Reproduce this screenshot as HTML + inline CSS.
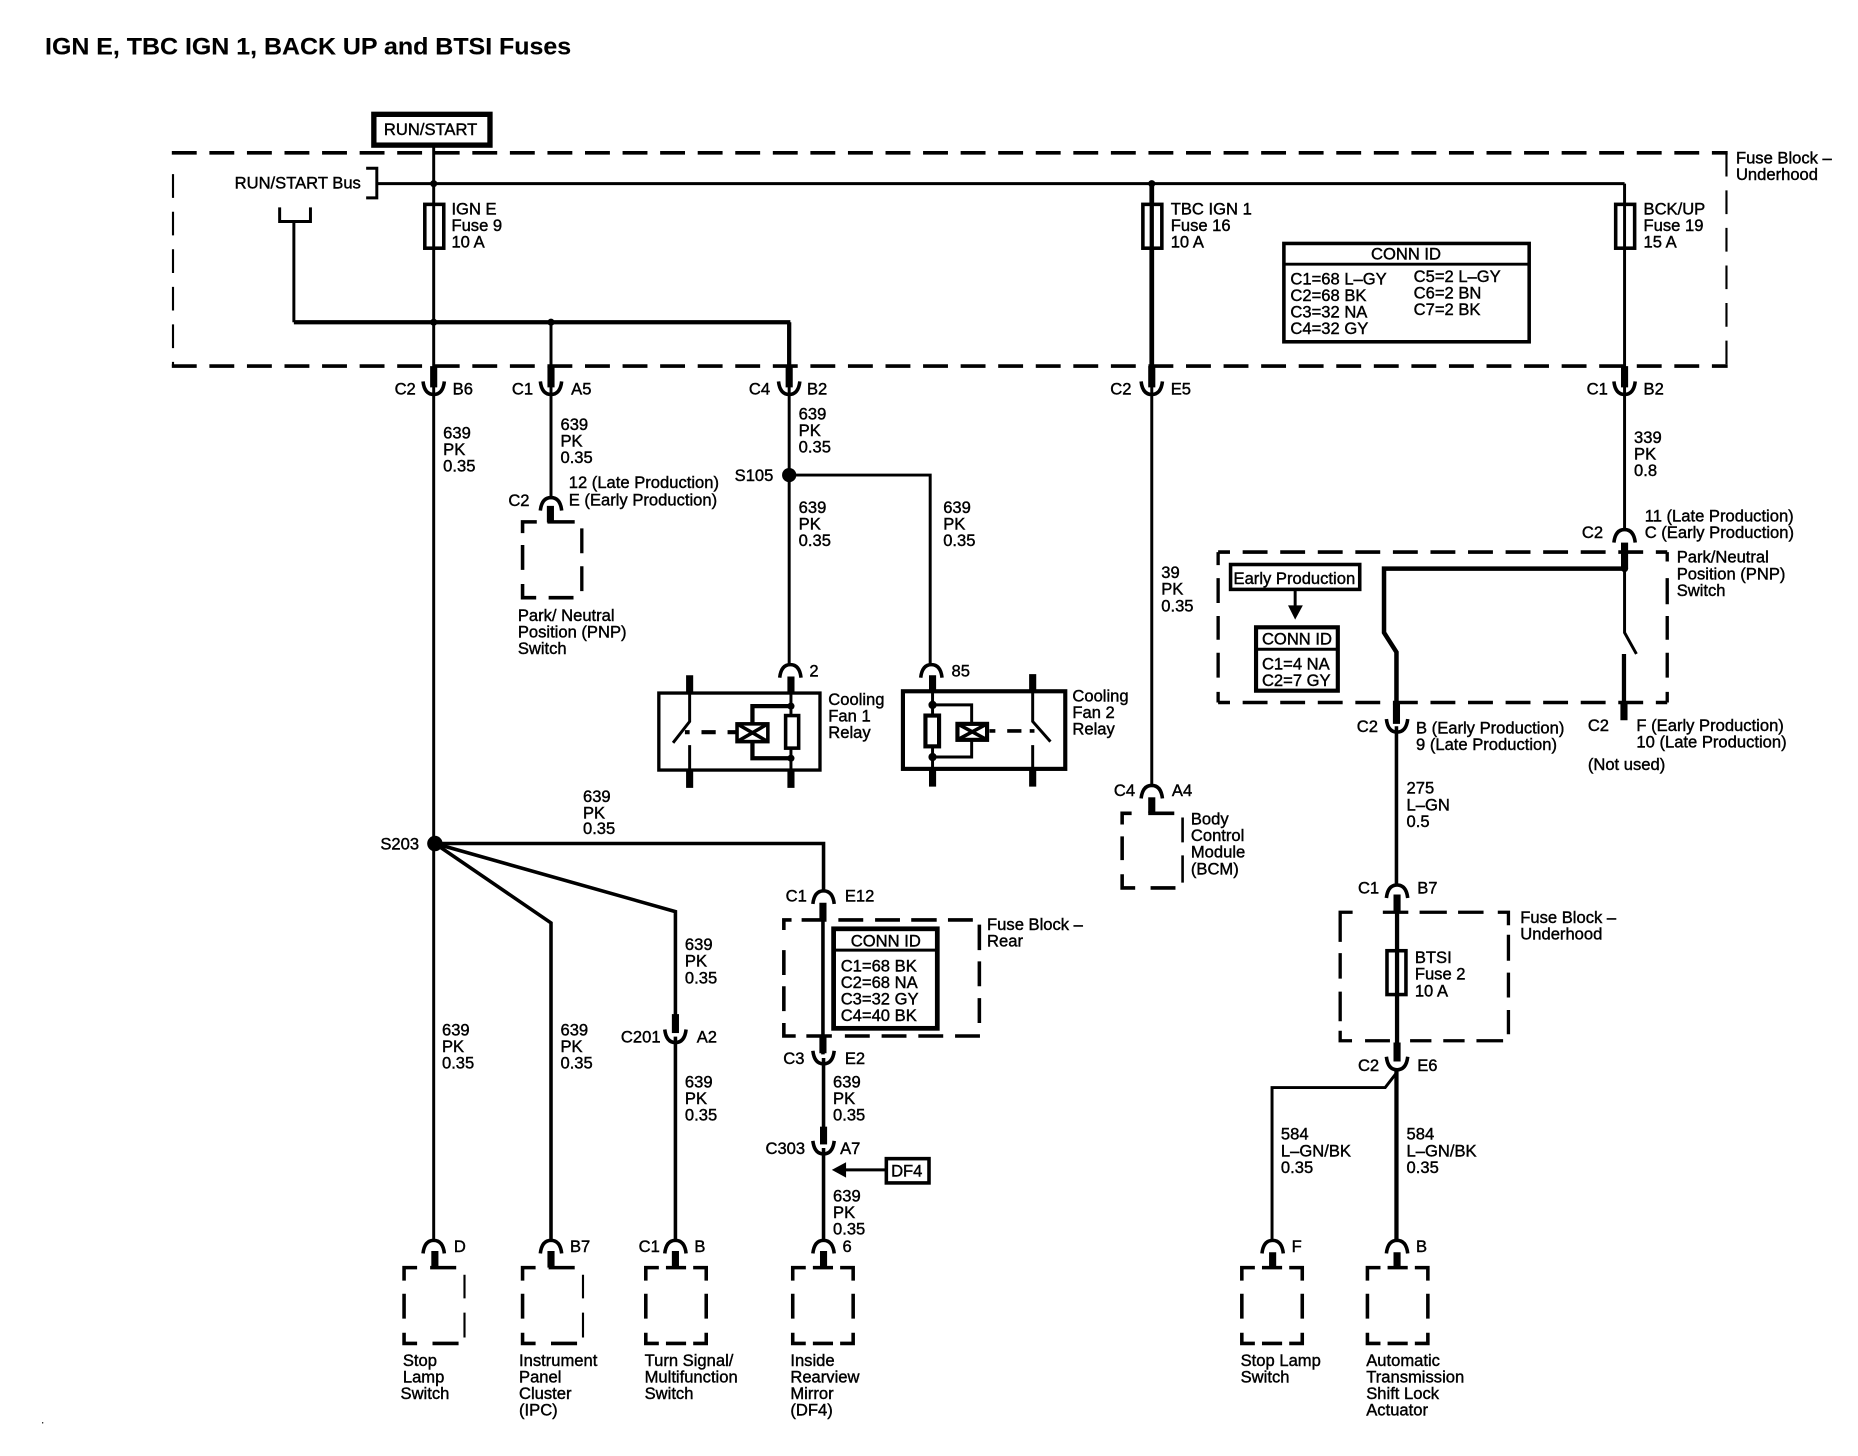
<!DOCTYPE html>
<html><head><meta charset="utf-8"><title>IGN E, TBC IGN 1, BACK UP and BTSI Fuses</title>
<style>
html,body{margin:0;padding:0;background:#fff}
svg{display:block;width:1858px;height:1456px}
text{font-family:"Liberation Sans",sans-serif;font-size:14px;fill:#000;stroke:#000;stroke-width:.35px}
.t{font-weight:bold;font-size:20px;stroke-width:.1px}
.w{stroke:#000;stroke-width:2.5;fill:none}
.h{stroke:#000;stroke-width:3;fill:none}
.x{stroke:#000;stroke-width:3.6;fill:none}
.s{stroke:#000;stroke-width:6;fill:none}
.d{stroke:#000;stroke-width:3;fill:none;stroke-dasharray:21 10.7}
.f{stroke:#000;stroke-width:1.8;fill:none;stroke-dasharray:20 11.7}
.b{stroke:#000;stroke-width:3;fill:#fff}
</style></head><body>
<svg viewBox="0 0 1568 1229" preserveAspectRatio="none" xmlns="http://www.w3.org/2000/svg">
<defs>
<path id="cup" d="M-9,-6C-8,3 -4,5 0,5C4,5 8,3 9,-6" fill="none" stroke="#000" stroke-width="3"/>
<path id="cap" d="M-9,6C-8,-3 -4,-5 0,-5C4,-5 8,-3 9,6" fill="none" stroke="#000" stroke-width="3"/>
<g id="ba" fill="none" stroke="#000">
<path stroke-width="3" d="M0,11V0H11M22,0H44M0,22V43M0,55V64H11M24,64H46"/>
<path stroke-width="1.8" d="M51,6V26M51,38V59"/>
</g>
<g id="bb" fill="none" stroke="#000" stroke-width="3">
<path d="M0,11V0H11M17,0H34M40,0H51V11M0,22V43M51,22V43M0,55V64H11M17,64H34M40,64H51V55"/>
</g>
</defs>
<rect width="1568" height="1229" fill="#fff"/>

<text class="t" x="38" y="46" textLength="444" lengthAdjust="spacingAndGlyphs">IGN E, TBC IGN 1, BACK UP and BTSI Fuses</text>

<!-- main fuse block -->
<line class="d" x1="145" y1="129" x2="1458" y2="129"/>
<line class="d" x1="145" y1="309" x2="1458" y2="309"/>
<line class="f" x1="146" y1="147" x2="146" y2="309"/>
<line class="f" x1="1457" y1="129" x2="1457" y2="309"/>

<rect x="315.500" y="96.500" width="98" height="26" fill="#fff" stroke="#000" stroke-width="4.500"/>
<text x="324" y="114">RUN/START</text>

<!-- bus -->
<path class="w" d="M309,142H318V167H309"/>
<text x="198" y="159">RUN/START Bus</text>
<line class="w" x1="318" y1="155" x2="1371" y2="155"/>
<path class="w" d="M236,175V187H262V175"/>
<path class="w" d="M248,187V272"/>
<line class="x" x1="248" y1="272" x2="667" y2="272"/>
<circle cx="366" cy="155" r="3"/><circle cx="972" cy="155" r="3"/>
<circle cx="366" cy="272" r="3"/><circle cx="465" cy="272" r="3"/>

<!-- verticals -->
<line class="w" x1="366" y1="124" x2="366" y2="1048"/>
<line class="w" x1="465" y1="272" x2="465" y2="420"/>
<line class="x" x1="666" y1="272" x2="666" y2="320"/>
<line class="w" x1="666" y1="320" x2="666" y2="562"/>
<line class="x" x1="972" y1="155" x2="972" y2="320" style="stroke-width:4"/>
<line class="w" x1="972" y1="320" x2="972" y2="664"/>
<line class="w" x1="1371" y1="155" x2="1371" y2="448"/>

<!-- fuses -->
<rect class="b" x="358.500" y="172.500" width="16" height="37"/><line class="w" x1="366" y1="172" x2="366" y2="210"/>
<rect class="b" x="964.500" y="172.500" width="16" height="37"/><line class="x" x1="972" y1="172" x2="972" y2="210"/>
<rect class="b" x="1363.500" y="172.500" width="16" height="37"/><line class="w" x1="1371" y1="172" x2="1371" y2="210"/>
<text x="381" y="181">IGN E<tspan x="381" dy="14">Fuse 9</tspan><tspan x="381" dy="14">10 A</tspan></text>
<text x="988" y="181">TBC IGN 1<tspan x="988" dy="14">Fuse 16</tspan><tspan x="988" dy="14">10 A</tspan></text>
<text x="1387" y="181">BCK/UP<tspan x="1387" dy="14">Fuse 19</tspan><tspan x="1387" dy="14">15 A</tspan></text>
<text x="1465" y="138">Fuse Block –<tspan x="1465" dy="14">Underhood</tspan></text>

<!-- conn id main -->
<rect class="b" x="1083.500" y="205.500" width="207" height="83"/>
<line class="w" x1="1083" y1="223" x2="1290" y2="223"/>
<text x="1157" y="219">CONN ID</text>
<text x="1089" y="240">C1=68 L–GY<tspan x="1089" dy="14">C2=68 BK</tspan><tspan x="1089" dy="14">C3=32 NA</tspan><tspan x="1089" dy="14">C4=32 GY</tspan></text>
<text x="1193" y="238">C5=2 L–GY<tspan x="1193" dy="14">C6=2 BN</tspan><tspan x="1193" dy="14">C7=2 BK</tspan></text>

<!-- top connectors -->
<g class="s"><path d="M366,309V327M465,309V327M666,309V327M972,309V327M1371,309V327"/></g>
<use href="#cup" x="366" y="328"/><use href="#cup" x="465" y="328"/><use href="#cup" x="666" y="328"/><use href="#cup" x="972" y="328"/><use href="#cup" x="1371" y="328"/>
<text x="333" y="333">C2</text><text x="382" y="333">B6</text>
<text x="432" y="333">C1</text><text x="482" y="333">A5</text>
<text x="632" y="333">C4</text><text x="681" y="333">B2</text>
<text x="937" y="333">C2</text><text x="988" y="333">E5</text>
<text x="1339" y="333">C1</text><text x="1387" y="333">B2</text>

<text x="374" y="370">639<tspan x="374" dy="14">PK</tspan><tspan x="374" dy="14">0.35</tspan></text>
<text x="473" y="363">639<tspan x="473" dy="14">PK</tspan><tspan x="473" dy="14">0.35</tspan></text>
<text x="674" y="354">639<tspan x="674" dy="14">PK</tspan><tspan x="674" dy="14">0.35</tspan></text>
<text x="1379" y="374">339<tspan x="1379" dy="14">PK</tspan><tspan x="1379" dy="14">0.8</tspan></text>

<!-- PNP left -->
<text x="480" y="412">12 (Late Production)<tspan x="480" dy="14.500">E (Early Production)</tspan></text>
<text x="429" y="427">C2</text>
<use href="#cap" x="465" y="425"/>
<path class="s" d="M464.500,427V441"/>
<g fill="none" stroke="#000" stroke-width="3"><path d="M441,450V440.500H453M462,440.500H485M441,460V481M441,493V504.500H452.500M463,504.500H484"/><path stroke-width="2.800" d="M491,446V467M491,478V499"/></g>
<text x="437" y="524">Park/ Neutral<tspan x="437" dy="14">Position (PNP)</tspan><tspan x="437" dy="14">Switch</tspan></text>

<!-- S105 -->
<circle cx="666" cy="401" r="6"/>
<text x="620" y="406">S105</text>
<path class="w" d="M666,401H785V562"/>
<text x="674" y="433">639<tspan x="674" dy="14">PK</tspan><tspan x="674" dy="14">0.35</tspan></text>
<text x="796" y="433">639<tspan x="796" dy="14">PK</tspan><tspan x="796" dy="14">0.35</tspan></text>

<!-- Relay 1 -->
<use href="#cap" x="667" y="566"/><text x="683" y="571">2</text>
<rect x="556" y="585" width="136" height="65" fill="none" stroke="#000" stroke-width="2.800"/>
<path class="s" d="M582,570V585M667.500,571V585M582,650V665M667.500,650V665"/>
<path class="w" d="M582,585V609L568,627M582,629V650M667.500,585V604M667.500,631V650"/>
<path class="x" d="M667,596H635V610M635,626V640H667"/>
<circle cx="667.500" cy="596" r="3"/><circle cx="667.500" cy="640" r="3"/>
<rect class="b" x="663" y="604" width="11" height="27.500"/>
<rect x="622" y="611" width="26" height="15" fill="#fff" stroke="#000" stroke-width="3"/>
<path class="h" d="M622,611L648,626M648,611L622,626"/>
<path d="M578,618H582M592,618H604M614,618H621" stroke="#000" stroke-width="3.500"/>
<text x="699" y="595">Cooling<tspan x="699" dy="14">Fan 1</tspan><tspan x="699" dy="14">Relay</tspan></text>

<!-- Relay 2 -->
<use href="#cap" x="786" y="566"/><text x="803" y="571">85</text>
<rect x="762" y="583.500" width="137" height="65.500" fill="none" stroke="#000" stroke-width="3.500"/>
<path class="s" d="M787,570V584M871.500,569V584M787,649V664M871.500,649V664"/>
<path class="w" d="M871.500,584V609L886.500,626M871.500,629V649M787,584V604M787,630V649"/>
<path class="w" d="M787,595H820V610M820,625V639H787"/>
<circle cx="787" cy="595" r="3.500"/><circle cx="787" cy="639" r="3.500"/>
<rect x="781" y="604" width="11.500" height="26" fill="#fff" stroke="#000" stroke-width="3.500"/>
<rect x="808" y="611" width="25" height="13.500" fill="#fff" stroke="#000" stroke-width="3.500"/>
<path class="h" d="M808,611L833,624.500M833,611L808,624.500"/>
<path d="M835,617H840M850,617H862M869,617H873" stroke="#000" stroke-width="3"/>
<text x="905" y="592">Cooling<tspan x="905" dy="14">Fan 2</tspan><tspan x="905" dy="14">Relay</tspan></text>

<!-- BCM -->
<text x="980" y="488">39<tspan x="980" dy="14">PK</tspan><tspan x="980" dy="14">0.35</tspan></text>
<use href="#cap" x="972" y="668"/>
<text x="940" y="672">C4</text><text x="989" y="672">A4</text>
<path class="s" d="M972,673V686"/>
<g fill="none" stroke="#000" stroke-width="3"><path d="M947,696V686.500H955M969,686.500H991M947,706V726M947,738V749.500H958M971,749.500H992"/><path stroke-width="2.200" d="M998,690V711M998,722V745"/></g>
<text x="1005" y="696">Body<tspan x="1005" dy="14">Control</tspan><tspan x="1005" dy="14">Module</tspan><tspan x="1005" dy="14">(BCM)</tspan></text>

<!-- PNP right -->
<text x="1388" y="440">11 (Late Production)<tspan x="1388" dy="14">C (Early Production)</tspan></text>
<text x="1335" y="454">C2</text>
<use href="#cap" x="1371" y="452"/>
<path class="s" d="M1371,458V480"/>
<g class="d"><path d="M1028,466H1407" style="stroke-dasharray:21 10.7;stroke-dashoffset:11"/><path d="M1028,593H1407" style="stroke-dasharray:21 10.7;stroke-dashoffset:11"/></g>
<path d="M1028,466V477M1028,488V509M1028,520V540M1028,551V572M1028,584V593M1407,466V474M1407,488V510M1407,520V540M1407,551V572M1407,584V593" fill="none" stroke="#000" stroke-width="2.800"/>
<path d="M1369,480H1168V534L1178.500,550.500V595" fill="none" stroke="#000" stroke-width="3.800"/>
<path class="w" d="M1371,480V534L1381,552"/>
<circle cx="1371" cy="480" r="3"/>
<path class="x" d="M1370.500,552V594"/>
<path class="s" d="M1370.500,594V608M1178.500,594V611"/>
<rect class="b" x="1038.500" y="476.500" width="109" height="21"/>
<text x="1041" y="493">Early Production</text>
<path class="w" d="M1093,498V512"/>
<path d="M1087,511H1099.500L1093,523Z"/>
<rect x="1060" y="529.500" width="69" height="53.500" fill="#fff" stroke="#000" stroke-width="3.500"/>
<line class="w" x1="1059" y1="548" x2="1130" y2="548"/>
<text x="1065" y="544">CONN ID</text>
<text x="1065" y="565">C1=4 NA<tspan x="1065" dy="14">C2=7 GY</tspan></text>
<text x="1415" y="475">Park/Neutral<tspan x="1415" dy="14">Position (PNP)</tspan><tspan x="1415" dy="14">Switch</tspan></text>
<use href="#cup" x="1179" y="613"/>
<text x="1145" y="618">C2</text>
<text x="1195" y="619">B (Early Production)<tspan x="1195" dy="14">9 (Late Production)</tspan></text>
<text x="1340" y="617">C2</text>
<text x="1381" y="617">F (Early Production)<tspan x="1381" dy="14">10 (Late Production)</tspan></text>
<text x="1340" y="650">(Not used)</text>

<line class="w" x1="1178.500" y1="613" x2="1178.500" y2="748" style="stroke-width:3"/>
<text x="1187" y="670">275<tspan x="1187" dy="14">L–GN</tspan><tspan x="1187" dy="14">0.5</tspan></text>
<use href="#cap" x="1179" y="752"/>
<text x="1146" y="754">C1</text><text x="1196" y="754">B7</text>
<path class="s" d="M1179,755V770M1179,880V896"/>
<line class="x" x1="1179" y1="769" x2="1179" y2="882"/>
<g fill="none" stroke="#000" stroke-width="2.800"><path d="M1131,785V770H1141.500M1167,770H1188.500M1198,770H1221M1230.500,770H1252M1264,770H1273V781M1131,775V795M1131,804.500V826M1131,837V862M1131,870V878.500H1141M1152,878.500H1173M1190,878.500H1208M1218,878.500H1236M1246,878.500H1268.500M1273,789V811M1273,821V842M1273,852.500V873"/></g>
<rect class="b" x="1170.500" y="802.500" width="16" height="37"/>
<line class="x" x1="1179" y1="802" x2="1179" y2="840"/>
<text x="1194" y="813">BTSI<tspan x="1194" dy="14">Fuse 2</tspan><tspan x="1194" dy="14">10 A</tspan></text>
<text x="1283" y="779">Fuse Block –<tspan x="1283" dy="14">Underhood</tspan></text>
<use href="#cup" x="1179" y="898"/>
<text x="1146" y="904">C2</text><text x="1196" y="904">E6</text>
<path class="w" d="M1179,905L1169,918H1073.500V1048"/>
<line class="x" x1="1178.500" y1="903" x2="1178.500" y2="1048"/>
<text x="1081" y="962">584<tspan x="1081" dy="14">L–GN/BK</tspan><tspan x="1081" dy="14">0.35</tspan></text>
<text x="1187" y="962">584<tspan x="1187" dy="14">L–GN/BK</tspan><tspan x="1187" dy="14">0.35</tspan></text>

<!-- S203 -->
<circle cx="367" cy="712" r="6.500"/>
<text x="321" y="717">S203</text>
<path class="h" d="M367,712H695V752"/>
<path class="h" d="M367,712L570,769.500V858"/>
<path class="h" d="M367,712L465,779V1048"/>
<text x="492" y="677">639<tspan x="492" dy="14">PK</tspan><tspan x="492" dy="13">0.35</tspan></text>
<text x="373" y="874">639<tspan x="373" dy="14">PK</tspan><tspan x="373" dy="14">0.35</tspan></text>
<text x="473" y="874">639<tspan x="473" dy="14">PK</tspan><tspan x="473" dy="14">0.35</tspan></text>
<text x="578" y="802">639<tspan x="578" dy="14">PK</tspan><tspan x="578" dy="14">0.35</tspan></text>
<path class="s" d="M570,856V872"/>
<use href="#cup" x="570" y="875"/>
<text x="524" y="880">C201</text><text x="588" y="880">A2</text>
<line class="h" x1="570" y1="875" x2="570" y2="1048"/>
<text x="578" y="918">639<tspan x="578" dy="14">PK</tspan><tspan x="578" dy="14">0.35</tspan></text>

<!-- rear fuse block -->
<use href="#cap" x="695" y="757"/>
<text x="663" y="761">C1</text><text x="713" y="761">E12</text>
<g fill="none" stroke="#000" stroke-width="3"><path d="M661.500,785V776.500H668M676.500,776.500H697.500M707.500,776.500H728.500M738.500,776.500H759.500M769,776.500H790.500M800,776.500H821M661.500,802V823M661.500,832.500V853.500M661.500,863.500V874.500H671.500M680.500,874.500H702M713,874.500H734M744,874.500H765M775,874.500H796M806,874.500H827M826.500,780.500V802M826.500,811.500V832.500M826.500,842.500V863.500"/></g>
<path class="s" d="M694.500,762V776M694.500,875V889"/>
<line class="h" x1="694.500" y1="776" x2="694.500" y2="890"/>
<rect x="703.500" y="784" width="87.500" height="84" fill="#fff" stroke="#000" stroke-width="4"/>
<line class="w" x1="703" y1="802" x2="792" y2="802"/>
<text x="718" y="799">CONN ID</text>
<text x="709.500" y="820">C1=68 BK<tspan x="709.500" dy="14">C2=68 NA</tspan><tspan x="709.500" dy="14">C3=32 GY</tspan><tspan x="709.500" dy="14">C4=40 BK</tspan></text>
<text x="833" y="785">Fuse Block –<tspan x="833" dy="14">Rear</tspan></text>
<use href="#cup" x="695" y="893"/>
<text x="661" y="898">C3</text><text x="713" y="898">E2</text>
<line class="h" x1="695" y1="893" x2="695" y2="953"/>
<text x="703" y="918">639<tspan x="703" dy="14">PK</tspan><tspan x="703" dy="14">0.35</tspan></text>
<path class="s" d="M695,951V966"/>
<use href="#cup" x="695" y="969"/>
<text x="646" y="974">C303</text><text x="709" y="974">A7</text>
<line class="h" x1="695" y1="969" x2="695" y2="1048"/>
<path d="M702,987.500L714,981V994Z"/>
<line class="w" x1="712" y1="987.500" x2="747" y2="987.500"/>
<rect class="b" x="748" y="978" width="36" height="20.500"/>
<text x="752" y="993">DF4</text>
<text x="703" y="1014">639<tspan x="703" dy="14">PK</tspan><tspan x="703" dy="14">0.35</tspan></text>

<!-- bottom components -->
<use href="#cap" x="366" y="1052"/><use href="#cap" x="465" y="1052"/><use href="#cap" x="570" y="1052"/><use href="#cap" x="695" y="1052"/><use href="#cap" x="1074" y="1052"/><use href="#cap" x="1179" y="1052"/>
<path class="s" d="M367,1056V1070M465,1056V1070M570,1056V1070M695,1056V1070M1074,1057V1070M1179,1057V1070"/>
<use href="#ba" x="341" y="1070"/><use href="#ba" x="441" y="1070"/><use href="#bb" x="545" y="1070"/><use href="#bb" x="669" y="1070"/><use href="#bb" x="1048" y="1070"/><use href="#bb" x="1154" y="1070"/>
<text x="383" y="1057">D</text><text x="481" y="1057">B7</text><text x="539" y="1057">C1</text><text x="586" y="1057">B</text><text x="711" y="1057">6</text><text x="1090" y="1057">F</text><text x="1195" y="1057">B</text>
<text x="340" y="1153">Stop<tspan x="340" dy="14">Lamp</tspan><tspan x="338" dy="14">Switch</tspan></text>
<text x="438" y="1153">Instrument<tspan x="438" dy="14">Panel</tspan><tspan x="438" dy="14">Cluster</tspan><tspan x="438" dy="14">(IPC)</tspan></text>
<text x="544" y="1153">Turn Signal/<tspan x="544" dy="14">Multifunction</tspan><tspan x="544" dy="14">Switch</tspan></text>
<text x="667" y="1153">Inside<tspan x="667" dy="14">Rearview</tspan><tspan x="667" dy="14">Mirror</tspan><tspan x="667" dy="14">(DF4)</tspan></text>
<text x="1047" y="1153">Stop Lamp<tspan x="1047" dy="14">Switch</tspan></text>
<text x="1153" y="1153">Automatic<tspan x="1153" dy="14">Transmission</tspan><tspan x="1153" dy="14">Shift Lock</tspan><tspan x="1153" dy="14">Actuator</tspan></text>
<circle cx="36" cy="1201" r=".6"/>
</svg>
</body></html>
